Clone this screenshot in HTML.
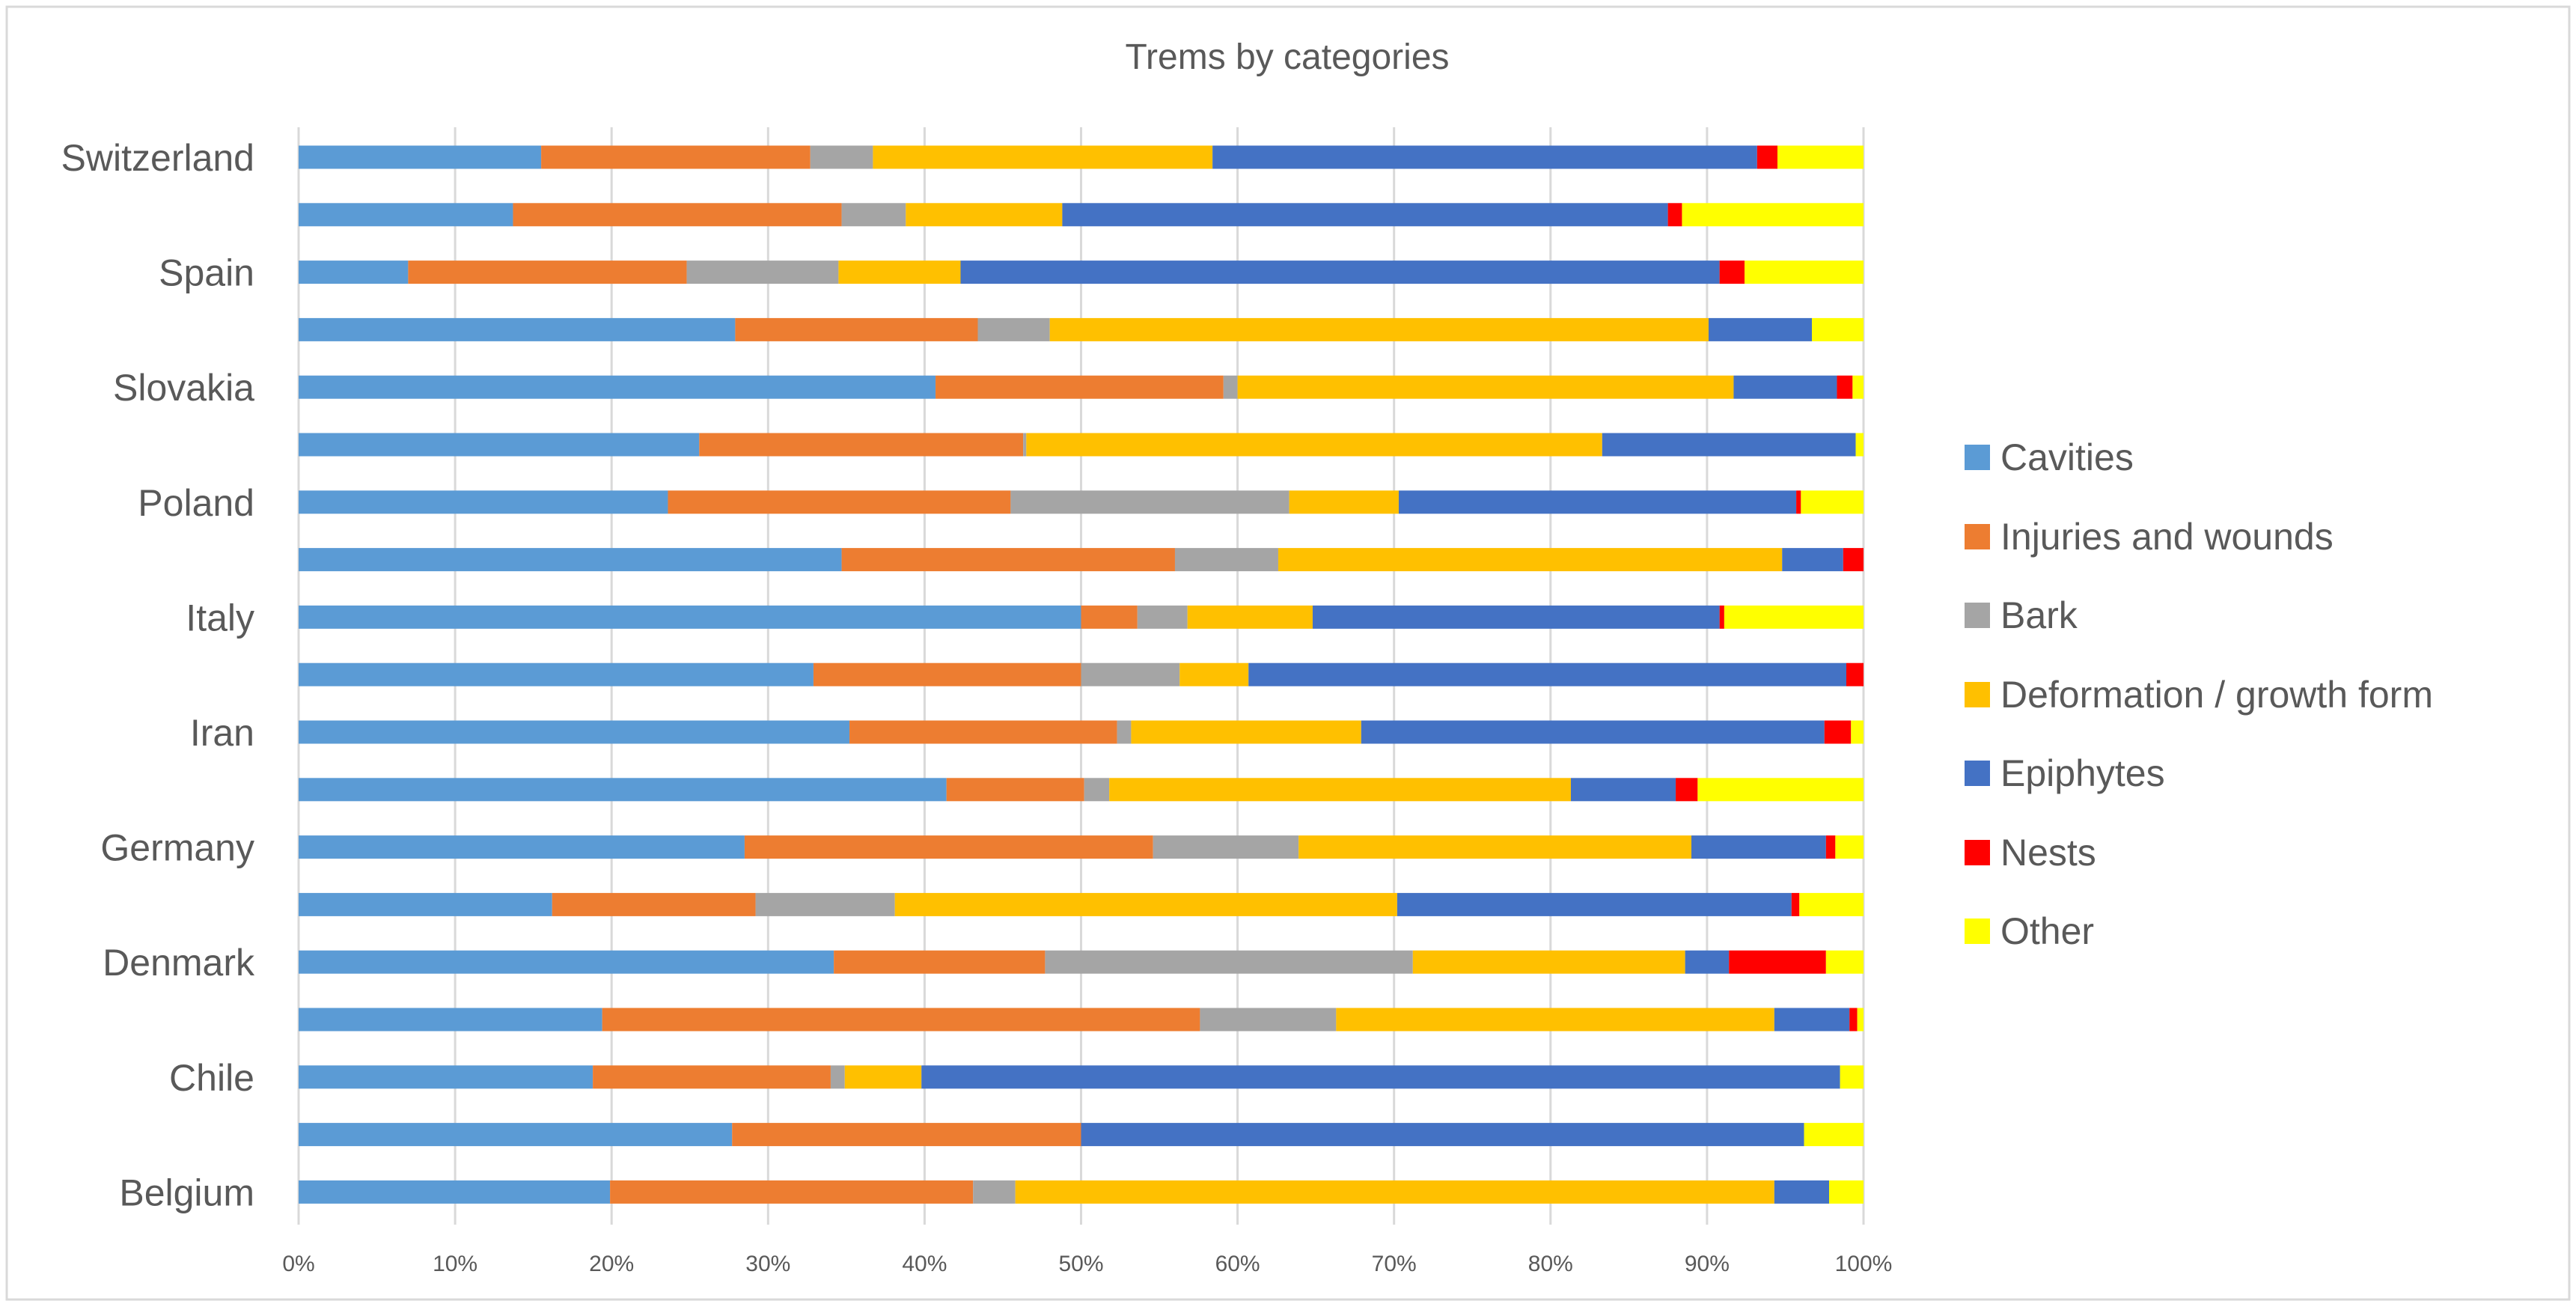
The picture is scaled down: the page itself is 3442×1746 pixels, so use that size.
<!DOCTYPE html>
<html><head><meta charset="utf-8"><style>
html,body{margin:0;padding:0;background:#fff;}
svg{display:block;font-family:"Liberation Sans",sans-serif;}
</style></head><body>
<svg id="chart" width="3442" height="1746" viewBox="0 0 3442 1746" xmlns="http://www.w3.org/2000/svg">
<rect x="9" y="9" width="3424" height="1727" fill="#fff" stroke="#d9d9d9" stroke-width="3"/>
<text x="1720" y="92" font-size="48" fill="#595959" text-anchor="middle">Trems by categories</text>
<g id="grid"></g><g id="bars"></g><g id="ylabels"></g><g id="xlabels"></g><g id="legend"></g>
</svg>
<script>
const categories = ["Switzerland","Sweden","Spain","Slovenia","Slovakia","Serbia","Poland","Portugal","Italy","Ireland","Iran","Hungary","Germany","France","Denmark","Czechia","Chile","Canada","Belgium"];
const showLabel = [true,false,true,false,true,false,true,false,true,false,true,false,true,false,true,false,true,false,true];
const seriesNames = ["Cavities","Injuries and wounds","Bark","Deformation / growth form","Epiphytes","Nests","Other"];
const cavities =   [15.5,13.7,7.0,27.9,40.7,25.6,23.6,34.7,50.0,32.9,35.2,41.4,28.5,16.2,34.2,19.4,18.8,27.7,19.9];
const injuries =   [17.2,21.0,17.8,15.5,18.4,20.7,21.9,21.3,3.6,17.1,17.1,8.8,26.1,13.0,13.5,38.2,15.2,22.3,23.2];
const bark =       [4.0,4.1,9.7,4.6,0.9,0.2,17.8,6.6,3.2,6.3,0.9,1.6,9.3,8.9,23.5,8.7,0.9,0,2.7];
const deformation= [21.7,10.0,7.8,42.1,31.7,36.8,7.0,32.2,8.0,4.4,14.7,29.5,25.1,32.1,17.4,28.0,4.9,0,48.5];
const epiphytes =  [34.8,38.7,48.5,6.6,6.6,16.2,25.4,3.9,26.0,38.2,29.6,6.7,8.6,25.2,2.8,4.8,58.7,46.2,3.5];
const nests =      [1.3,0.9,1.6,0,1.0,0,0.3,1.3,0.3,1.1,1.7,1.4,0.6,0.5,6.2,0.5,0,0,0];
const other =      [5.5,11.6,7.6,3.3,0.7,0.5,4.0,0,8.9,0,0.8,10.6,1.8,4.1,2.4,0.4,1.5,3.8,2.2];
const xTicks = ["0%","10%","20%","30%","40%","50%","60%","70%","80%","90%","100%"];
const series = [cavities,injuries,bark,deformation,epiphytes,nests,other];
const colors = ["#5b9bd5","#ed7d31","#a5a5a5","#ffc000","#4472c4","#ff0000","#ffff00"];
const NS="http://www.w3.org/2000/svg";
const X0=399,X1=2490,Y0=210,STEP=76.8,BH=31;
function xs(p){return X0+(X1-X0)*p/100;}
function ys(i){return Y0+i*STEP;}
function mk(tag,attrs,parent){const e=document.createElementNS(NS,tag);for(const k in attrs)e.setAttribute(k,attrs[k]);parent.appendChild(e);return e;}
const grid=document.getElementById('grid');
xTicks.forEach((t,i)=>{
  const l=mk('line',{x1:xs(i*10),x2:xs(i*10),y1:170,y2:1636,stroke:'#d9d9d9','stroke-width':3},grid);
  
  
  const tx=mk('text',{x:xs(i*10),y:1698,'font-size':30,fill:'#595959','text-anchor':'middle'},document.getElementById('xlabels'));
  tx.textContent=t;
  
  
});
const bars=document.getElementById('bars');
categories.forEach((c,i)=>{
  let acc=0;
  series.forEach((s,j)=>{
    const v=s[i];
    const r=mk('rect',{x:xs(acc),y:ys(i)-BH/2,width:Math.max(0,xs(acc+v)-xs(acc)),height:BH,fill:colors[j]},bars);
    
    
    acc+=v;
  });
  if(showLabel[i]){
    const t=mk('text',{x:340,y:ys(i)+18,'font-size':50,fill:'#595959','text-anchor':'end'},document.getElementById('ylabels'));
    t.textContent=c;
    
    
  }
});
const lg=document.getElementById('legend');
const legY=[611,717,822,928,1033,1139,1244];
seriesNames.forEach((n,j)=>{
  const g=mk('g',{},lg);
  
  
  mk('rect',{x:2625,y:legY[j]-17,width:34,height:34,fill:colors[j]},g);
  const t=mk('text',{x:2673,y:legY[j]+17,'font-size':50,fill:'#595959'},g);
  t.textContent=n;
});
</script>
</body></html>
